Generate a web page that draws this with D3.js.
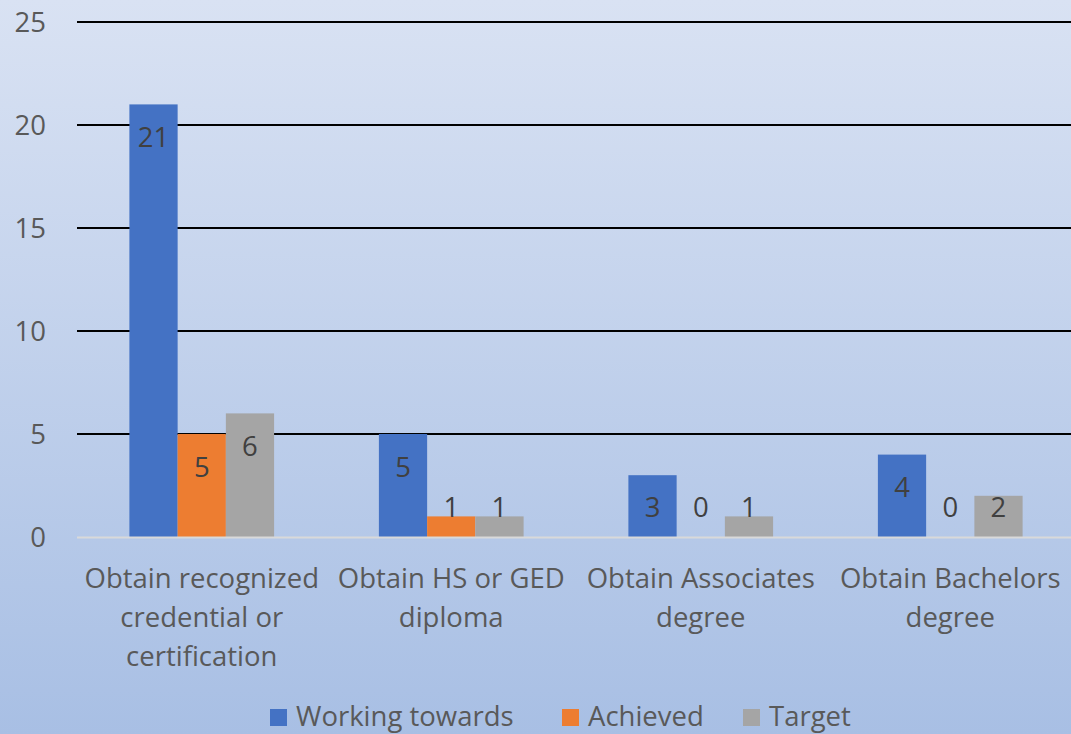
<!DOCTYPE html>
<html><head><meta charset="utf-8">
<script src="https://cdn.jsdelivr.net/npm/d3@7"></script>
<style>html,body{margin:0;padding:0;overflow:hidden;}svg{display:block;}</style>
</head><body>
<svg id="chart" width="1071" height="734"></svg>
<script>
const categories = [
  ["Obtain recognized", "credential or", "certification"],
  ["Obtain HS or GED", "diploma"],
  ["Obtain Associates", "degree"],
  ["Obtain Bachelors", "degree"]
];
const seriesNames = ["Working towards", "Achieved", "Target"];
const workingTowards = [21, 5, 3, 4];
const achieved = [5, 1, 0, 0];
const target = [6, 1, 1, 2];
const yTicks = [0, 5, 10, 15, 20, 25];
const colors = ["#4472c4", "#ed7d31", "#a5a5a5"];

const series = [workingTowards, achieved, target];
const W = 1071, H = 734;
const svg = d3.select("#chart");
const font = "'Open Sans', 'Noto Sans', sans-serif";
const fs = 27.5;

const defs = svg.append("defs");
const grad = defs.append("linearGradient").attr("id","bg").attr("x1",0).attr("y1",0).attr("x2",0).attr("y2",1);
grad.append("stop").attr("offset","0%").attr("stop-color","#d9e2f3");
grad.append("stop").attr("offset","100%").attr("stop-color","#a8bfe4");
svg.append("rect").attr("width",W).attr("height",H).attr("fill","url(#bg)");

const x0 = d3.scaleBand().domain(d3.range(categories.length)).range([77, 1075]).paddingInner(0.42).paddingOuter(0.21);
const x1 = d3.scaleBand().domain(d3.range(series.length)).range([0, x0.bandwidth()]);
const y = d3.scaleLinear().domain([0, 25]).range([537, 22]);

const yAxis = d3.axisLeft(y).tickValues(yTicks).tickSize(0).tickPadding(0);
const ga = svg.append("g").attr("transform","translate(46,0)").call(yAxis);
ga.select(".domain").remove();
ga.selectAll("text").attr("font-family",font).attr("font-size",fs).attr("fill","#595959").attr("dy","0.35em");

svg.append("g").selectAll("line").data(yTicks.filter(d=>d>0)).join("line")
  .attr("x1",77).attr("x2",1071).attr("y1",d=>y(d)).attr("y2",d=>y(d))
  .attr("stroke","#000").attr("stroke-width",2);

const groups = svg.append("g").selectAll("g").data(categories).join("g")
  .attr("transform",(d,i)=>`translate(${x0(i)},0)`);
groups.each(function(c, ci){
  const g = d3.select(this);
  series.forEach((s, si) => {
    const v = s[ci];
    g.append("rect").attr("x", x1(si)).attr("width", x1.bandwidth())
      .attr("y", y(v)).attr("height", y(0)-y(v)).attr("fill", colors[si]);
  });
});

svg.append("line").attr("x1",77).attr("x2",1071).attr("y1",y(0)+0.5).attr("y2",y(0)+0.5)
  .attr("stroke","#d9d9d9").attr("stroke-width",2);

groups.each(function(c, ci){
  const g = d3.select(this);
  series.forEach((s, si) => {
    const v = s[ci];
    const cy = Math.min(y(v) + 33, y(0) - 30);
    g.append("text").attr("x", x1(si) + x1.bandwidth()/2).attr("y", cy)
      .attr("dy","0.35em").attr("text-anchor","middle")
      .attr("font-family",font).attr("font-size",fs).attr("fill","#404040").text(v);
  });
});

groups.each(function(c, ci){
  const g = d3.select(this);
  const t = g.append("text").attr("text-anchor","middle").attr("font-family",font)
    .attr("font-size",fs).attr("fill","#595959");
  c.forEach((line, li) => {
    t.append("tspan").attr("x", x0.bandwidth()/2).attr("y", 578 + li*39).attr("dy","0.35em").text(line);
  });
});

const legendX = [270, 562, 743];
const lg = svg.append("g");
seriesNames.forEach((n, i) => {
  lg.append("rect").attr("x", legendX[i]).attr("y", 709).attr("width", 17).attr("height", 17).attr("fill", colors[i]);
  lg.append("text").attr("x", legendX[i] + 26).attr("y", 726)
    .attr("font-family",font).attr("font-size",fs).attr("fill","#595959").text(n);
});
</script>
</body></html>
